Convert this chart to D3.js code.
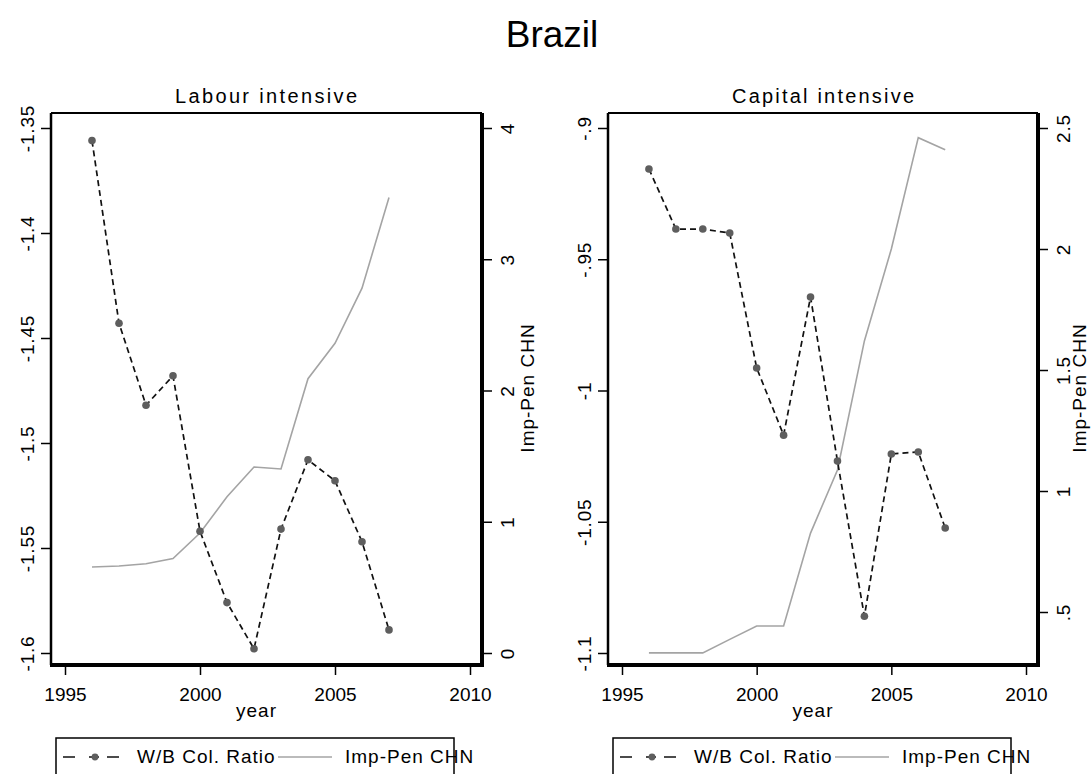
<!DOCTYPE html>
<html>
<head>
<meta charset="utf-8">
<script src="https://cdn.jsdelivr.net/npm/d3@7"></script>
<style>
body { margin: 0; background: #fff; }
text { font-family: "Liberation Sans", Arial, sans-serif; }
</style>
</head>
<body>
<script>
// values
var years = [1996, 1997, 1998, 1999, 2000, 2001, 2002, 2003, 2004, 2005, 2006, 2007];
var wbLabour = [-1.356, -1.443, -1.482, -1.468, -1.542, -1.576, -1.598, -1.541, -1.508, -1.518, -1.547, -1.589];
var impLabour = [0.655, 0.663, 0.68, 0.72, 0.914, 1.19, 1.417, 1.402, 2.09, 2.36, 2.78, 3.47];
var wbCapital = [-0.9156, -0.9385, -0.9385, -0.940, -0.9914, -1.017, -0.9644, -1.0269, -1.086, -1.0242, -1.0234, -1.0524];
var impCapital = [0.331, 0.331, 0.331, 0.387, 0.442, 0.442, 0.826, 1.087, 1.62, 2.0, 2.46, 2.41];

var xTicks = [1995, 2000, 2005, 2010];
var labourLeftTicks = [-1.6, -1.55, -1.5, -1.45, -1.4, -1.35];
var labourRightTicks = [0, 1, 2, 3, 4];
var capitalLeftTicks = [-1.1, -1.05, -1, -0.95, -0.9];
var capitalRightTicks = [0.5, 1, 1.5, 2, 2.5];

var legendNames = ["W/B Col. Ratio", "Imp-Pen CHN"];

var svgWidth = 1092;
var svgHeight = 774;

var svg = d3.select("body").append("svg")
    .attr("width", svgWidth)
    .attr("height", svgHeight);

svg.append("text")
    .attr("x", 552)
    .attr("y", 47)
    .attr("text-anchor", "middle")
    .attr("font-size", 37)
    .text("Brazil");

// Stata style number format: drop leading zero
function stataFmt(v) {
    var s = String(+v.toFixed(2));
    return s.replace(/^(-?)0\./, "$1.");
}

function drawPanel(p) {
    var g = svg.append("g");
    var x = d3.scaleLinear().domain([1995, 2010]).range([p.x0 + 14, p.x1 - 12]);
    var yL = d3.scaleLinear().domain(p.leftDomain).range(p.leftRange);
    var yR = d3.scaleLinear().domain(p.rightDomain).range(p.rightRange);

    // panel title
    g.append("text")
        .attr("x", p.titleX)
        .attr("y", 103)
        .attr("text-anchor", "middle")
        .attr("font-size", 20)
        .attr("textLength", 182)
        .attr("lengthAdjust", "spacing")
        .text(p.title);

    // plot frame
    g.append("line").attr("x1", p.x0).attr("x2", p.x1).attr("y1", p.y0).attr("y2", p.y0)
        .attr("stroke", "#000").attr("stroke-width", 2);
    g.append("line").attr("x1", p.x0).attr("x2", p.x0).attr("y1", p.y0).attr("y2", p.y1)
        .attr("stroke", "#000").attr("stroke-width", 2.5);
    g.append("line").attr("x1", p.x1).attr("x2", p.x1).attr("y1", p.y0).attr("y2", p.y1 + 2)
        .attr("stroke", "#000").attr("stroke-width", 4);
    g.append("line").attr("x1", p.x0 - 1).attr("x2", p.x1 + 2).attr("y1", p.y1).attr("y2", p.y1)
        .attr("stroke", "#000").attr("stroke-width", 4);

    // left axis
    var ga = g.append("g")
        .attr("transform", "translate(" + p.x0 + ",0)")
        .call(d3.axisLeft(yL).tickValues(p.leftTicks).tickFormat(stataFmt).tickSize(10).tickSizeOuter(0));
    ga.select(".domain").remove();
    ga.selectAll("line").attr("stroke-width", 1.5);
    ga.selectAll("text")
        .attr("x", null).attr("dy", null)
        .attr("text-anchor", "middle")
        .attr("transform", "translate(-17,0) rotate(-90)");
    ga.attr("font-size", 19).attr("font-family", null).attr("letter-spacing", "0.8px");

    // right axis
    var gr = g.append("g")
        .attr("transform", "translate(" + p.x1 + ",0)")
        .call(d3.axisRight(yR).tickValues(p.rightTicks).tickFormat(stataFmt).tickSize(10).tickSizeOuter(0));
    gr.select(".domain").remove();
    gr.selectAll("line").attr("stroke-width", 1.5);
    gr.selectAll("text")
        .attr("x", null).attr("dy", null)
        .attr("text-anchor", "middle")
        .attr("transform", "translate(32,0) rotate(-90)");
    gr.attr("font-size", 19).attr("font-family", null).attr("letter-spacing", "0.8px");

    g.append("text")
        .attr("text-anchor", "middle")
        .attr("font-size", 19)
        .attr("letter-spacing", "1px")
        .attr("transform", "translate(" + (p.x1 + p.titleOff) + ",388) rotate(-90)")
        .text("Imp-Pen CHN");

    // bottom axis
    var gx = g.append("g")
        .attr("transform", "translate(0," + p.y1 + ")")
        .call(d3.axisBottom(x).tickValues(xTicks).tickFormat(d3.format("d")).tickSize(10).tickSizeOuter(0));
    gx.select(".domain").remove();
    gx.selectAll("line").attr("stroke-width", 1.5);
    gx.selectAll("text").attr("y", 36).attr("dy", null);
    gx.attr("font-size", 19).attr("font-family", null);

    g.append("text")
        .attr("x", (p.x0 + p.x1) / 2 - 10)
        .attr("y", 717)
        .attr("text-anchor", "middle")
        .attr("font-size", 19)
        .attr("letter-spacing", "1px")
        .text("year");

    // series
    var impData = years.map(function(d, i) { return { year: d, v: p.imp[i] }; });
    var wbData = years.map(function(d, i) { return { year: d, v: p.wb[i] }; });

    g.append("path")
        .datum(impData)
        .attr("fill", "none")
        .attr("stroke", "#a4a4a4")
        .attr("stroke-width", 1.6)
        .attr("d", d3.line().x(function(d) { return x(d.year); }).y(function(d) { return yR(d.v); }));

    g.append("path")
        .datum(wbData)
        .attr("fill", "none")
        .attr("stroke", "#111")
        .attr("stroke-width", 1.7)
        .attr("stroke-dasharray", "6,4")
        .attr("d", d3.line().x(function(d) { return x(d.year); }).y(function(d) { return yL(d.v); }));

    g.selectAll(".dot")
        .data(wbData)
        .enter().append("circle")
        .attr("cx", function(d) { return x(d.year); })
        .attr("cy", function(d) { return yL(d.v); })
        .attr("r", 3.8)
        .attr("fill", "#5e5e5e");

    // legend
    var lx = p.x0 + 5;
    g.append("rect")
        .attr("x", lx).attr("y", 738)
        .attr("width", 398).attr("height", 80)
        .attr("fill", "none").attr("stroke", "#000").attr("stroke-width", 1.5);
    g.append("line")
        .attr("x1", lx + 7).attr("x2", lx + 63).attr("y1", 757).attr("y2", 757)
        .attr("stroke", "#111").attr("stroke-width", 1.7)
        .attr("stroke-dasharray", "12,14,10,8,12");
    g.append("circle")
        .attr("cx", lx + 39).attr("cy", 757).attr("r", 3.4).attr("fill", "#5e5e5e");
    g.append("text")
        .attr("x", lx + 81).attr("y", 763)
        .attr("font-size", 19).attr("letter-spacing", "1px")
        .text(legendNames[0]);
    g.append("line")
        .attr("x1", lx + 222).attr("x2", lx + 276).attr("y1", 757).attr("y2", 757)
        .attr("stroke", "#a4a4a4").attr("stroke-width", 1.6);
    g.append("text")
        .attr("x", lx + 289).attr("y", 763)
        .attr("font-size", 19).attr("letter-spacing", "1px")
        .text(legendNames[1]);
}

drawPanel({
    title: "Labour intensive", titleX: 266, titleOff: 52,
    x0: 51, x1: 482, y0: 113, y1: 665,
    leftDomain: [-1.6, -1.35], leftRange: [653, 128], leftTicks: labourLeftTicks,
    rightDomain: [0, 4], rightRange: [653, 128], rightTicks: labourRightTicks,
    wb: wbLabour, imp: impLabour
});

drawPanel({
    title: "Capital intensive", titleX: 823, titleOff: 48,
    x0: 608, x1: 1038, y0: 113, y1: 665,
    leftDomain: [-1.1, -0.9], leftRange: [653, 128], leftTicks: capitalLeftTicks,
    rightDomain: [0.5, 2.5], rightRange: [612, 128], rightTicks: capitalRightTicks,
    wb: wbCapital, imp: impCapital
});
</script>
</body>
</html>
